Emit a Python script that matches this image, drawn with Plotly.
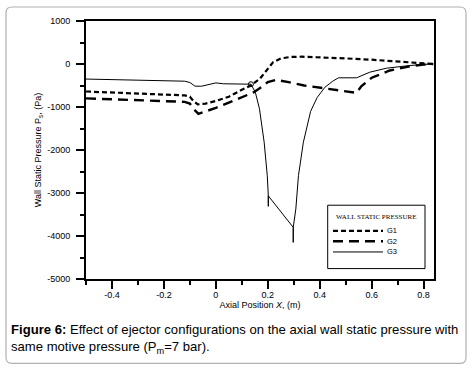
import plotly.graph_objects as go

# ---- data ----
g1_x = [-0.5, -0.3, -0.12, -0.1, -0.085, -0.07, -0.04, 0.0, 0.05, 0.1, 0.135, 0.17, 0.2, 0.22,
        0.25, 0.29, 0.33, 0.4, 0.5, 0.6, 0.7, 0.8, 0.837]
g1_y = [-640, -680, -730, -760, -870, -940, -920, -860, -760, -600, -500, -340, -120, 40,
        130, 165, 170, 160, 130, 100, 60, 20, 0]

g2_x = [-0.5, -0.3, -0.12, -0.1, -0.085, -0.067, -0.04, 0.0, 0.05, 0.1, 0.145, 0.18, 0.2, 0.23,
        0.28, 0.34, 0.43, 0.5, 0.542, 0.56, 0.6, 0.67, 0.75, 0.8, 0.837]
g2_y = [-800, -840, -880, -920, -1050, -1160, -1110, -1020, -900, -770, -660, -520, -420, -370,
        -420, -500, -580, -630, -670, -520, -320, -150, -50, -15, 0]

g3_x = [-0.5, -0.3, -0.12, -0.1, -0.08, -0.055, -0.03, 0.0, 0.03, 0.135, 0.152, 0.168, 0.186,
        0.198, 0.202, 0.202, 0.202, 0.298, 0.298, 0.298, 0.308, 0.318, 0.337, 0.365, 0.39, 0.42,
        0.45, 0.472, 0.542, 0.593, 0.658, 0.747, 0.837]
g3_y = [-350, -375, -400, -430, -516, -516, -480, -440, -460, -470, -657, -1043, -1820,
        -2596, -3066, -3311, -3066, -3800, -4149, -3800, -3371, -2596, -1820, -1100, -780, -540,
        -400, -321, -321, -190, -97, -35, 5]
g3_marker_index = 9

x_tickvals = [-0.4, -0.2, 0, 0.2, 0.4, 0.6, 0.8]
x_ticktext = ["-0.4", "-0.2", "0", "0.2", "0.4", "0.6", "0.8"]
y_tickvals = [1000, 0, -1000, -2000, -3000, -4000, -5000]
y_ticktext = ["1000", "0", "-1000", "-2000", "-3000", "-4000", "-5000"]

series_names = ["G1", "G2", "G3"]
legend_title = "WALL STATIC PRESSURE"
x_title = "Axial Position <i>X</i>, (m)"
y_title = "Wall Static Pressure P<sub>s</sub>, (Pa)"
caption_1 = "<b>Figure 6:</b> Effect of ejector configurations on the axial wall static pressure with"
caption_2 = "same motive pressure (P<sub>m</sub>=7 bar)."

FONT = "Liberation Sans, Arial, sans-serif"
SERIF = "Liberation Serif, Times New Roman, serif"
DASH1 = "5px,3px"
DASH2 = "10px,6px"

fig = go.Figure()
fig.add_trace(go.Scatter(x=g1_x, y=g1_y, mode="lines", name=series_names[0],
                         line=dict(color="black", width=2.2, dash=DASH1), showlegend=False))
fig.add_trace(go.Scatter(x=g2_x, y=g2_y, mode="lines", name=series_names[1],
                         line=dict(color="black", width=2.4, dash=DASH2), showlegend=False))
fig.add_trace(go.Scatter(x=g3_x, y=g3_y, mode="lines", name=series_names[2],
                         line=dict(color="black", width=1), showlegend=False))
fig.add_trace(go.Scatter(x=[g3_x[g3_marker_index]], y=[g3_y[g3_marker_index]], mode="markers",
                         marker=dict(symbol="circle-open", size=5, color="black", line=dict(width=1)),
                         showlegend=False, hoverinfo="skip"))

# plot-area pixel geometry
L, R, T, B = 86, 434, 21, 278.7
W, H = 475, 371
pw, ph = R - L, B - T


def px(x):
    return (x - L) / pw


def py(y):
    return (B - y) / ph


shapes = []
# rounded outer frame
x0, x1, y0, y1 = px(6), px(466), py(363), py(7)
rx, ry = 6 / pw, 6 / ph
path = (f"M {x0+rx},{y1} L {x1-rx},{y1} Q {x1},{y1} {x1},{y1-ry} L {x1},{y0+ry} "
        f"Q {x1},{y0} {x1-rx},{y0} L {x0+rx},{y0} Q {x0},{y0} {x0},{y0+ry} "
        f"L {x0},{y1-ry} Q {x0},{y1} {x0+rx},{y1} Z")
shapes.append(dict(type="path", xref="paper", yref="paper", path=path,
                   line=dict(color="#b0b0b0", width=1.2), layer="below"))
# legend box
shapes.append(dict(type="rect", xref="paper", yref="paper", x0=px(327.7), x1=px(425),
                   y0=py(268.3), y1=py(205), line=dict(color="black", width=1),
                   fillcolor="white"))
legend_rows = [230.7, 241, 251.7]
legend_dash = [DASH1, DASH2, "solid"]
legend_width = [2.2, 2.4, 1]
annotations = []
for i, r in enumerate(legend_rows):
    shapes.append(dict(type="line", xref="paper", yref="paper", x0=px(333), x1=px(383),
                       y0=py(r), y1=py(r),
                       line=dict(color="black", width=legend_width[i], dash=legend_dash[i])))
    annotations.append(dict(xref="paper", yref="paper", x=px(385), y=py(r), text=series_names[i],
                            showarrow=False, xanchor="left", yanchor="middle",
                            font=dict(family=FONT, size=7.5, color="black")))
annotations.append(dict(xref="paper", yref="paper", x=px(376.3), y=py(216.7), text=legend_title,
                        showarrow=False, xanchor="center", yanchor="middle",
                        font=dict(family=SERIF, size=7, color="black")))
annotations.append(dict(xref="paper", yref="paper", x=px(9), y=py(329), text=caption_1,
                        showarrow=False, xanchor="left", yanchor="middle",
                        font=dict(family=FONT, size=13.1, color="black")))
annotations.append(dict(xref="paper", yref="paper", x=px(9), y=py(347), text=caption_2,
                        showarrow=False, xanchor="left", yanchor="middle",
                        font=dict(family=FONT, size=13.1, color="black")))

axis_common = dict(showgrid=False, zeroline=False, showline=True, linecolor="black",
                   linewidth=2, mirror=True, ticks="outside", ticklen=8, tickwidth=2,
                   tickcolor="black", tickfont=dict(family=FONT, size=9, color="black"))

fig.update_layout(
    width=W, height=H,
    margin=dict(l=L, r=W - R, t=T, b=H - B, pad=0),
    paper_bgcolor="white", plot_bgcolor="white",
    shapes=shapes, annotations=annotations,
    xaxis=dict(range=[-0.5, 0.84], tickmode="array", tickvals=x_tickvals, ticktext=x_ticktext,
               ticklabelstandoff=-2,
               minor=dict(dtick=0.1, tick0=0, ticks="outside", ticklen=4, tickwidth=2, tickcolor="black"),
               title=dict(text=x_title, font=dict(family=FONT, size=9, color="black"), standoff=1),
               **axis_common),
    yaxis=dict(range=[-5000, 1000], tickmode="array", tickvals=y_tickvals, ticktext=y_ticktext,
               ticklabelstandoff=4,
               minor=dict(dtick=500, tick0=0, ticks="outside", ticklen=4, tickwidth=2, tickcolor="black"),
               title=dict(text=y_title, font=dict(family=FONT, size=9, color="black"), standoff=4),
               **axis_common),
)

fig.write_html("out.html", config={"displayModeBar": False},
               post_script="document.body.style.margin='0px';")
